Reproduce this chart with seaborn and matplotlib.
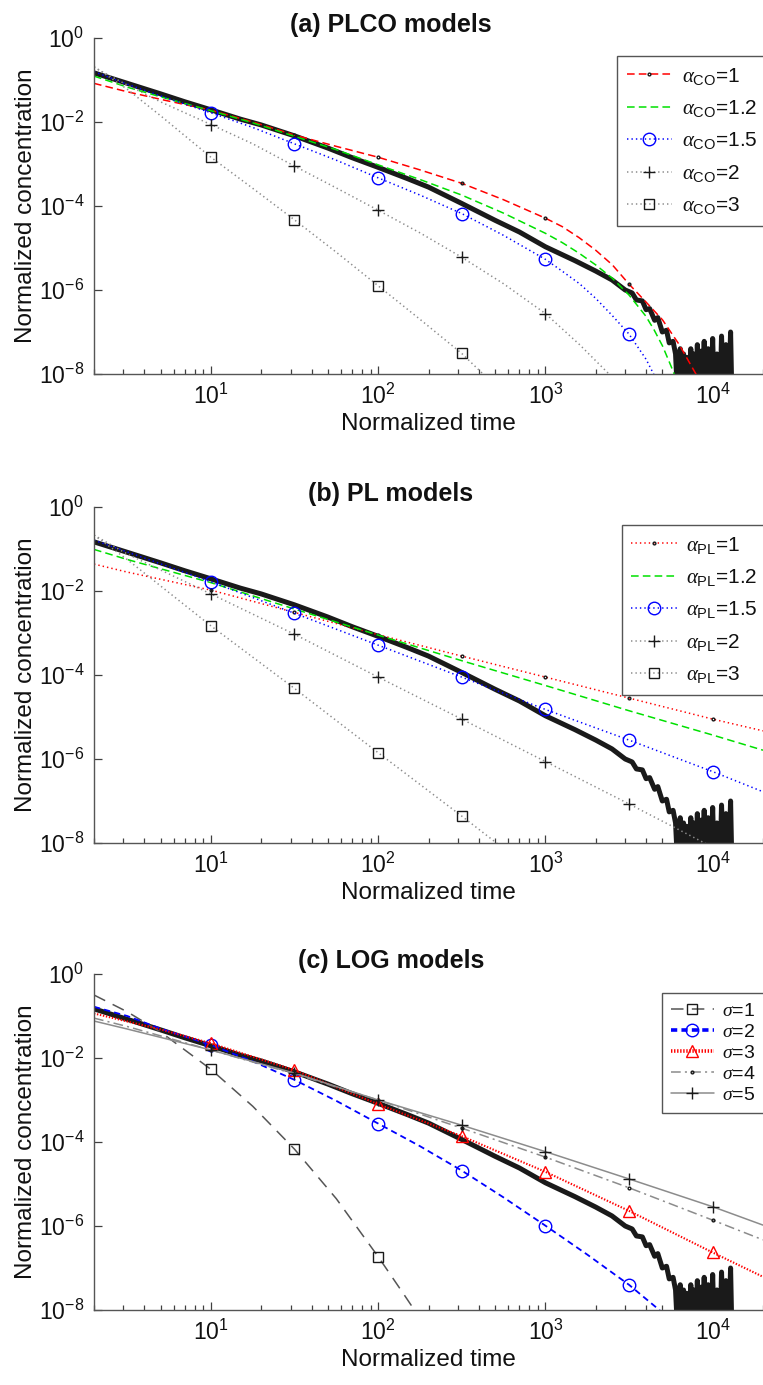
import numpy as np
import matplotlib
matplotlib.use("Agg")
import matplotlib.pyplot as plt
from matplotlib.ticker import LogLocator, NullLocator, NullFormatter
import seaborn as sns

# observed breakthrough curve (same in all panels), tail is noisy
obs_t = [2, 3, 5, 7, 10, 15, 20, 31.6, 50, 70, 100, 150, 200, 316, 500, 700,
         1000, 1500, 2000, 2500, 3000, 3300, 3500, 3800, 4000, 4200, 4500, 4700,
         5000, 5300, 5500, 5800, 6000,
         6200, 6400, 6500, 6700, 6900, 7000, 7200, 7400, 7500, 7700, 7900, 8100,
         8300, 8500, 8700, 8900, 9100, 9400, 9700, 10000, 10300, 10600, 11000,
         11300, 11700, 12000, 12400, 12800, 13100]
obs_c = [0.148, 0.0891, 0.0468, 0.0302, 0.0195, 0.0117, 0.00851, 0.00468, 0.0024,
         0.00141, 8.32e-4, 4.47e-4, 2.82e-4, 1.15e-4, 4.57e-5, 2.4e-5,
         1.07e-5, 5.01e-6, 2.82e-6, 1.74e-6, 1e-6, 8.5e-7, 5.8e-7, 5.5e-7, 3.4e-7,
         3.6e-7, 1.9e-7, 2.2e-7, 1.0e-7, 1.1e-7, 5.5e-8, 6.0e-8, 3.0e-8,
         2e-9, 4e-8, 1e-9, 3e-8, 1e-9, 2.5e-8, 1e-9, 4e-8, 1e-9, 3e-8, 1e-9, 5e-8,
         1e-9, 3.5e-8, 1e-9, 6e-8, 1e-9, 4e-8, 1e-9, 7e-8, 1e-9, 3e-8, 1e-9,
         8e-8, 1e-9, 5e-8, 1e-9, 1e-7, 1e-9]

# (a) PLCO models
co1_t = [2, 3.16, 5, 10, 17.8, 31.6, 56.2, 100, 178, 316, 562, 1000, 1259, 1585,
         1995, 2512, 3162, 3981, 5012, 6310, 7943, 10000]
co1_c = [0.0832, 0.0525, 0.0347, 0.0191, 0.01, 0.0049, 0.00263, 0.00145, 7.24e-4,
         3.47e-4, 1.41e-4, 5.13e-5, 3.24e-5, 1.78e-5, 8.91e-6, 3.98e-6, 1.38e-6,
         5.25e-7, 1.95e-7, 5.01e-8, 1e-8, 1.58e-9]
co12_t = [2, 3.16, 5, 10, 17.8, 31.6, 56.2, 100, 178, 316, 562, 1000, 1259, 1585,
          1995, 2512, 3162, 3981, 4467, 5012, 5623, 6310]
co12_c = [0.124, 0.0676, 0.0398, 0.0186, 0.00955, 0.00457, 0.00219, 9.55e-4,
          4.27e-4, 1.82e-4, 6.76e-5, 2.24e-5, 1.35e-5, 7.59e-6, 3.98e-6, 1.91e-6,
          7.59e-7, 2.40e-7, 1.12e-7, 4.68e-8, 1.58e-8, 5.01e-9]
co15_t = [2, 3.16, 5, 10, 17.8, 31.6, 56.2, 100, 178, 316, 562, 1000, 1259, 1600,
          2000, 2500, 3162, 4000, 4500, 6000]
co15_c = [0.158, 0.0794, 0.0417, 0.0166, 0.00741, 0.00302, 0.00123, 4.68e-4,
          1.82e-4, 6.61e-5, 2.0e-5, 5.37e-6, 2.82e-6, 1.41e-6, 6.31e-7, 2.51e-7,
          8.91e-8, 2.24e-8, 8.91e-9, 1e-9]
co2_t = [2, 3.16, 5, 10, 17.8, 31.6, 56.2, 100, 178, 316, 562, 1000, 1600, 2400, 3000]
co2_c = [0.2, 0.0759, 0.0302, 0.00871, 0.00302, 8.91e-4, 2.69e-4, 7.94e-5, 2.29e-5,
         6.03e-6, 1.41e-6, 2.75e-7, 5.01e-8, 1e-8, 3.16e-9]
co3_t = [2, 3.16, 5, 10, 17.8, 31.6, 56.2, 100, 178, 316, 450]
co3_c = [0.209, 0.0603, 0.0141, 0.00145, 2.63e-4, 4.68e-5, 7.94e-6, 1.26e-6,
         2.0e-7, 3.09e-8, 7.94e-9]

# (b) PL models
pl_t = [2, 3.16, 10, 31.6, 100, 316, 1000, 3162, 10000, 20000]
pl1_c = [0.0437, 0.0282, 0.0105, 0.00309, 9.12e-4, 2.82e-4, 8.91e-5, 2.82e-5,
         8.91e-6, 4.68e-6]
pl12_c = [0.0977, 0.0562, 0.0158, 0.00372, 8.91e-4, 2.19e-4, 5.62e-5, 1.41e-5,
          3.72e-6, 1.62e-6]
pl15_c = [0.162, 0.0851, 0.0166, 0.00295, 5.13e-4, 8.91e-5, 1.51e-5, 2.82e-6,
          5.01e-7, 1.66e-7]
pl2_t = [2, 3.16, 10, 31.6, 100, 316, 1000, 3162, 10000]
pl2_c = [0.214, 0.0759, 0.00851, 9.33e-4, 8.91e-5, 8.91e-6, 8.71e-7, 8.51e-8, 7.94e-9]
pl3_t = [2, 3.16, 10, 31.6, 100, 316, 1000]
pl3_c = [0.214, 0.0562, 0.00148, 4.79e-5, 1.41e-6, 4.37e-8, 1.26e-9]

# (c) LOG models
lg1_t = [2, 3.16, 5, 10, 17.8, 31.6, 56.2, 100, 141, 178]
lg1_c = [0.316, 0.126, 0.0417, 0.00537, 7.08e-4, 6.76e-5, 4.47e-6, 1.86e-7,
         2.51e-8, 6.31e-9]
lg2_t = [2, 3.16, 5, 10, 17.8, 31.6, 56.2, 100, 178, 316, 562, 1000, 1778, 3162,
         4800, 6000]
lg2_c = [0.166, 0.1, 0.0501, 0.0204, 0.00832, 0.00302, 9.55e-4, 2.75e-4, 7.94e-5,
         2.09e-5, 4.79e-6, 1.02e-6, 2.09e-7, 3.98e-8, 1e-8, 3.98e-9]
lg3_t = [2, 3.16, 5, 10, 31.6, 100, 316, 1000, 3162, 10000, 20000]
lg3_c = [0.115, 0.0741, 0.0479, 0.0224, 0.00513, 7.94e-4, 1.38e-4, 1.95e-5,
         2.29e-6, 2.34e-7, 6.17e-8]
lg4_t = [2, 3.16, 10, 31.6, 100, 316, 1000, 3162, 10000, 20000]
lg4_c = [0.0891, 0.0562, 0.0155, 0.00417, 1e-3, 2.14e-4, 4.37e-5, 8.13e-6,
         1.38e-6, 4.68e-7]
lg5_c = [0.0759, 0.049, 0.0155, 0.00437, 1e-3, 2.51e-4, 5.89e-5, 1.32e-5,
         2.88e-6, 1.05e-6]

sns.set_theme(style="white")
plt.rcParams["font.family"] = ["Liberation Sans", "DejaVu Sans"]
plt.rcParams["mathtext.fontset"] = "custom"
plt.rcParams["mathtext.rm"] = "Liberation Sans"
plt.rcParams["mathtext.it"] = "Liberation Serif:italic"
plt.rcParams["mathtext.bf"] = "Liberation Sans:bold"
plt.rcParams["lines.scale_dashes"] = False
plt.rcParams["text.color"] = "#111111"
plt.rcParams["axes.labelcolor"] = "#111111"

RED, GREEN, BLUE, GRAY, DGRAY = "#ff0000", "#00e000", "#0000ff", "#8c8c8c", "#555555"
DASH = (0, (5.5, 3))
DOT = (0, (1, 2.2))


def draw(ax, t, c, label, color, ls, lw=1.1, marker=None, ms=8, mec="k",
         mfc="none", mew=1.0):
    t = np.asarray(t, float)
    half = np.log10(t) * 2
    # markers sit on every half decade from 10 on
    idx = list(np.where(np.isclose(half, np.round(half), atol=0.01) & (t > 9))[0])
    sns.lineplot(x=t, y=c, ax=ax, color=color, linestyle=ls, lw=lw, marker=marker,
                 markevery=idx, ms=ms, mec=mec, mfc=mfc, mew=mew, label=label,
                 estimator=None, sort=False)


def style(ax, title, leg_xy, leg_fs, leg_sp):
    ax.set_xscale("log")
    ax.set_yscale("log")
    ax.set_xlim(2, 2e4)
    ax.set_ylim(1e-8, 1)
    ax.set_yticks([1e-8, 1e-6, 1e-4, 1e-2, 1])
    ax.yaxis.set_minor_locator(NullLocator())
    ax.set_xticks([10, 100, 1000, 10000])
    ax.xaxis.set_minor_locator(LogLocator(base=10, subs=np.arange(2, 10)))
    ax.xaxis.set_minor_formatter(NullFormatter())
    ax.tick_params(which="both", direction="in", color="#404040", width=0.9,
                   labelsize=16.5, labelcolor="#111111", bottom=True, left=True)
    ax.tick_params(which="major", length=6, pad=7)
    ax.tick_params(which="minor", length=3.5)
    sns.despine(ax=ax)
    for s in ("left", "bottom"):
        ax.spines[s].set_color("#555555")
        ax.spines[s].set_linewidth(1.0)
    ax.set_xlabel("Normalized time", fontsize=17.5, labelpad=3)
    ax.set_ylabel("Normalized concentration", fontsize=17.5, labelpad=1)
    ax.set_title(title, fontsize=18, fontweight="bold", x=0.444, pad=4)
    leg = ax.legend(loc="upper left", bbox_to_anchor=leg_xy, borderaxespad=0,
                    frameon=True, fancybox=False, framealpha=1, edgecolor="#555555",
                    fontsize=leg_fs, handlelength=2.2, labelspacing=leg_sp,
                    borderpad=0.45, handletextpad=0.45)
    leg.get_frame().set_linewidth(1.0)
    return leg


fig = plt.figure(figsize=(7.63, 13.85), dpi=100)
axa = fig.add_axes([0.1232, 0.72996, 0.8768, 0.2426])
axb = fig.add_axes([0.1232, 0.39134, 0.8768, 0.2426])
axc = fig.add_axes([0.1232, 0.05415, 0.8768, 0.2426])

for ax in (axa, axb, axc):
    ax.set_xscale("log")
    ax.set_yscale("log")
    sns.lineplot(x=obs_t, y=obs_c, ax=ax, color="k", lw=3.6, estimator=None,
                 sort=False)

# (a)
draw(axa, co1_t, co1_c, r"$\alpha_{\mathrm{CO}}$=1", RED, DASH, marker=".", ms=4)
draw(axa, co12_t, co12_c, r"$\alpha_{\mathrm{CO}}$=1.2", GREEN, DASH)
draw(axa, co15_t, co15_c, r"$\alpha_{\mathrm{CO}}$=1.5", BLUE, DOT, marker="o",
     ms=9, mec=BLUE)
draw(axa, co2_t, co2_c, r"$\alpha_{\mathrm{CO}}$=2", GRAY, DOT, marker="+", ms=9)
draw(axa, co3_t, co3_c, r"$\alpha_{\mathrm{CO}}$=3", GRAY, DOT, marker="s", ms=6.5)
style(axa, "(a) PLCO models", (0.782, 0.946), 15, 0.55)

# (b)
draw(axb, pl_t, pl1_c, r"$\alpha_{\mathrm{PL}}$=1", RED, DOT, marker=".", ms=4)
draw(axb, pl_t, pl12_c, r"$\alpha_{\mathrm{PL}}$=1.2", GREEN, DASH)
draw(axb, pl_t, pl15_c, r"$\alpha_{\mathrm{PL}}$=1.5", BLUE, DOT, marker="o",
     ms=9, mec=BLUE)
draw(axb, pl2_t, pl2_c, r"$\alpha_{\mathrm{PL}}$=2", GRAY, DOT, marker="+", ms=9)
draw(axb, pl3_t, pl3_c, r"$\alpha_{\mathrm{PL}}$=3", GRAY, DOT, marker="s", ms=6.5)
style(axb, "(b) PL models", (0.789, 0.946), 15, 0.55)

# (c)
draw(axc, lg1_t, lg1_c, r"$\sigma$=1", DGRAY, (0, (9, 6)), marker="s", ms=6.5)
draw(axc, lg2_t, lg2_c, r"$\sigma$=2", BLUE, (0, (4.5, 3)), lw=1.3, marker="o",
     ms=9, mec=BLUE)
draw(axc, lg3_t, lg3_c, r"$\sigma$=3", RED, (0, (1, 1.2)), lw=1.5, marker="^",
     ms=9, mec=RED)
draw(axc, lg4_t, lg4_c, r"$\sigma$=4", GRAY, (0, (7, 3, 1.5, 3)), marker=".", ms=4)
draw(axc, lg4_t, lg5_c, r"$\sigma$=5", GRAY, "-", marker="+", ms=9)
legc = style(axc, "(c) LOG models", (0.849, 0.943), 14, 0.18)
# legend shows sigma=2 and sigma=3 with heavier strokes
for h in legc.get_lines()[1:3]:
    h.set_linewidth(2.6)

fig.savefig("out.png", dpi=100)
